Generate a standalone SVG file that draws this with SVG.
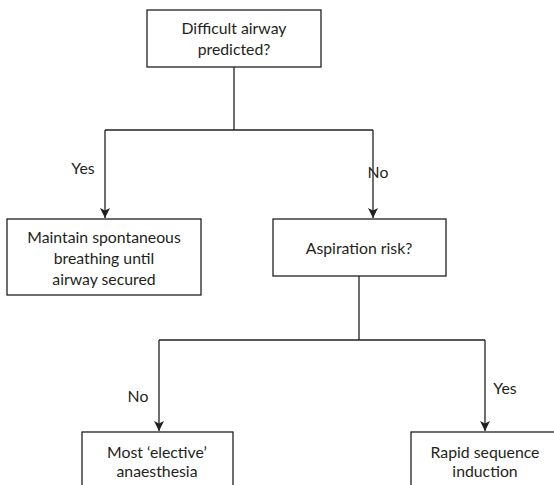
<svg xmlns="http://www.w3.org/2000/svg" width="554" height="485" viewBox="0 0 554 485">
<style>
.box{fill:#fff;stroke:#231f20;stroke-width:1.3}
.ln{fill:none;stroke:#231f20;stroke-width:1.3}
text{font-family:"Lato","Open Sans",sans-serif;font-size:15.8px;fill:#231f20;text-anchor:middle}
</style>
<defs>
<marker id="ah" markerWidth="10" markerHeight="12" refX="10" refY="5" orient="auto" markerUnits="userSpaceOnUse">
<path d="M0,0 L10,5 L0,10 L2.5,5 Z" fill="#231f20"/>
</marker>
</defs>
<rect width="554" height="485" fill="#fff"/>
<g id="connectors">
<path class="ln" d="M234,67 V130"/>
<path class="ln" d="M105,130 H373"/>
<path class="ln" d="M105,130 V218" marker-end="url(#ah)"/>
<path class="ln" d="M373,130 V218" marker-end="url(#ah)"/>
<path class="ln" d="M359,276 V340"/>
<path class="ln" d="M159,340 H485"/>
<path class="ln" d="M159,340 V431" marker-end="url(#ah)"/>
<path class="ln" d="M485,340 V431" marker-end="url(#ah)"/>
<text x="83" y="174">Yes</text>
<text x="378" y="178">No</text>
<text x="138" y="402">No</text>
<text x="505" y="394">Yes</text>
</g>
<g id="n1">
<rect class="box" x="147" y="10" width="174" height="57"/>
<text x="234" y="34">Difficult airway</text>
<text x="234" y="55">predicted?</text>
</g>
<g id="n2">
<rect class="box" x="7" y="219" width="194" height="76"/>
<text x="104" y="243">Maintain spontaneous</text>
<text x="104" y="264">breathing until</text>
<text x="104" y="285">airway secured</text>
</g>
<g id="n3">
<rect class="box" x="273" y="219" width="173" height="57"/>
<text x="359" y="254">Aspiration risk?</text>
</g>
<g id="n4">
<rect class="box" x="82" y="432" width="151" height="70"/>
<text x="157" y="458">Most ‘elective’</text>
<text x="157" y="477">anaesthesia</text>
</g>
<g id="n5">
<rect class="box" x="411" y="432" width="150" height="70"/>
<text x="485" y="458">Rapid sequence</text>
<text x="485" y="477">induction</text>
</g>
</svg>
